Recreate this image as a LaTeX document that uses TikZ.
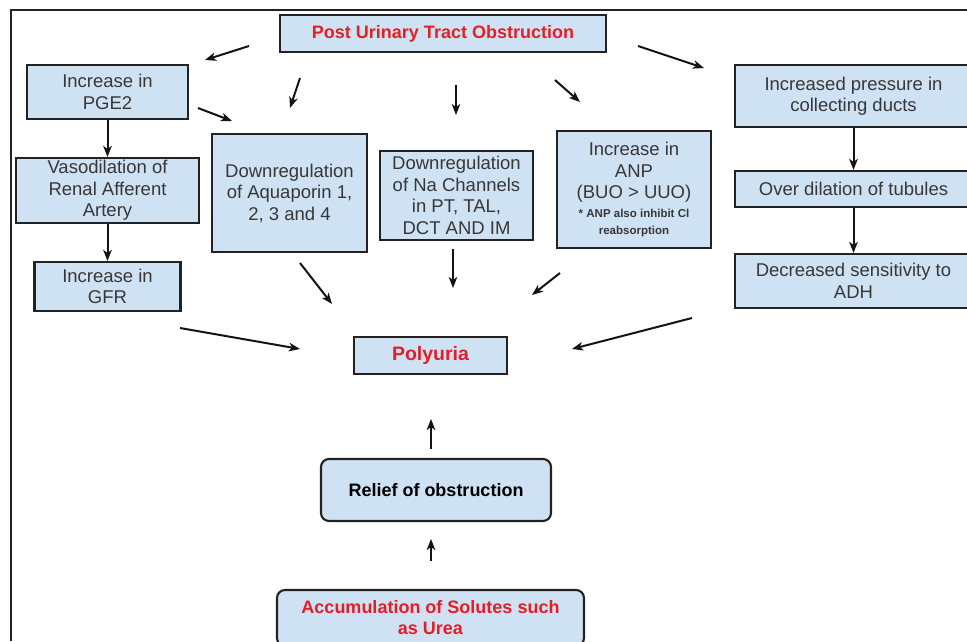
\documentclass[tikz,border=0pt]{standalone}
\usepackage{fontspec}
\setmainfont{Liberation Sans}
\usetikzlibrary{arrows.meta}
\definecolor{boxfill}{RGB}{207,226,243}
\definecolor{boxline}{RGB}{34,34,34}
\definecolor{txtgray}{RGB}{55,55,55}
\definecolor{txtred}{RGB}{228,30,38}
\definecolor{arrcol}{RGB}{20,20,20}
\begin{document}
\begin{tikzpicture}[x=1pt,y=-1pt,
  box/.style={draw=boxline, line width=2.1pt, fill=boxfill, inner sep=0pt,
    align=center, text=txtgray, font=\fontsize{18.5}{21.5}\selectfont},
  redtxt/.style={text=txtred, font=\fontsize{18}{21}\selectfont\bfseries},
  roundbox/.style={box, rounded corners=8pt},
  arr/.style={draw=arrcol, line width=2pt, -{Stealth[length=11pt,width=8.5pt,inset=3pt]}},
  frame/.style={draw=boxline, line width=1.8pt}]
\useasboundingbox (0,0) rectangle (967,641);
\fill[white] (0,0) rectangle (967,641);
\draw[frame] (11,641) -- (11,10) -- (967,10);

% boxes
\node[box, redtxt, line width=2.6pt, minimum width=326pt, minimum height=37pt] (post) at (443,33.5) {Post Urinary Tract Obstruction};
\node[box, minimum width=161pt, minimum height=54pt] (pge) at (107.5,92) {Increase in\\PGE2};
\node[box, minimum width=183pt, minimum height=65pt] (vaso) at (107.5,190.5) {Vasodilation of\\Renal Afferent\\Artery};
\node[box, minimum width=146pt, minimum height=49pt] (gfr) at (107.5,286.5) {Increase in\\GFR};
\node[box, minimum width=155pt, minimum height=118pt] (aqua) at (289.5,193) {Downregulation\\of Aquaporin 1,\\2, 3 and 4};
\node[box, minimum width=153pt, minimum height=89pt] (na) at (456.5,195.5) {Downregulation\\of Na Channels\\in PT, TAL,\\DCT AND IM};
\node[box, minimum width=154pt, minimum height=117pt] (anp) at (634,189.5) {Increase in\\ANP\\(BUO > UUO)\\[-3pt]{\fontsize{11.5}{13.5}\selectfont\bfseries * ANP also inhibit Cl}\\[-4pt]{\fontsize{11.5}{13.5}\selectfont\bfseries reabsorption}};
\node[box, minimum width=237pt, minimum height=62pt] (coll) at (853.5,96) {Increased pressure in\\collecting ducts};
\node[box, minimum width=237pt, minimum height=36pt] (over) at (853.5,189) {Over dilation of tubules};
\node[box, minimum width=237pt, minimum height=54pt] (decr) at (853.5,281) {Decreased sensitivity to\\ADH};
\node[box, redtxt, font=\fontsize{19.5}{22}\selectfont\bfseries, minimum width=153pt, minimum height=37pt] (poly) at (430.5,355.5) {Polyuria};
\node[roundbox, text=black, font=\fontsize{18}{21}\selectfont\bfseries, minimum width=230pt, minimum height=62pt] (relief) at (436,490) {Relief of obstruction};
\node[roundbox, redtxt, minimum width=307pt, minimum height=56pt] (accum) at (430.5,618) {Accumulation of Solutes such\\as Urea};

% free arrow ends
\coordinate (a1s) at (249,46);  \coordinate (a1e) at (205,60);
\coordinate (a2s) at (300,78);  \coordinate (a2e) at (290,108);
\coordinate (a3s) at (456,85);  \coordinate (a3e) at (456,115);
\coordinate (a4s) at (555,80);  \coordinate (a4e) at (580,102);
\coordinate (a5s) at (638,46);  \coordinate (a5e) at (704,68);
\coordinate (a6s) at (198,108); \coordinate (a6e) at (232,121);
\coordinate (b1s) at (300,263); \coordinate (b1e) at (332,304);
\coordinate (b2s) at (453,249); \coordinate (b2e) at (453,288);
\coordinate (b3s) at (560,273); \coordinate (b3e) at (532,295);
\coordinate (b4s) at (180,328); \coordinate (b4e) at (300,349);
\coordinate (b5s) at (692,318); \coordinate (b5e) at (572,349);
\coordinate (c1s) at (431,449); \coordinate (c1e) at (431,419);
\coordinate (c2s) at (431,561); \coordinate (c2e) at (431,539);

\draw[arr] (a1s) -- (a1e);
\draw[arr] (a2s) -- (a2e);
\draw[arr] (a3s) -- (a3e);
\draw[arr] (a4s) -- (a4e);
\draw[arr] (a5s) -- (a5e);
\draw[arr] (a6s) -- (a6e);
\draw[arr] (b1s) -- (b1e);
\draw[arr] (b2s) -- (b2e);
\draw[arr] (b3s) -- (b3e);
\draw[arr] (b4s) -- (b4e);
\draw[arr] (b5s) -- (b5e);
\draw[arr] (c1s) -- (c1e);
\draw[arr] (c2s) -- (c2e);

% box-to-box connectors
\draw[arr] (pge) -- (vaso);
\draw[arr] (vaso) -- (gfr);
\draw[arr] (coll) -- (over);
\draw[arr] (over) -- (decr);
\end{tikzpicture}
\end{document}
